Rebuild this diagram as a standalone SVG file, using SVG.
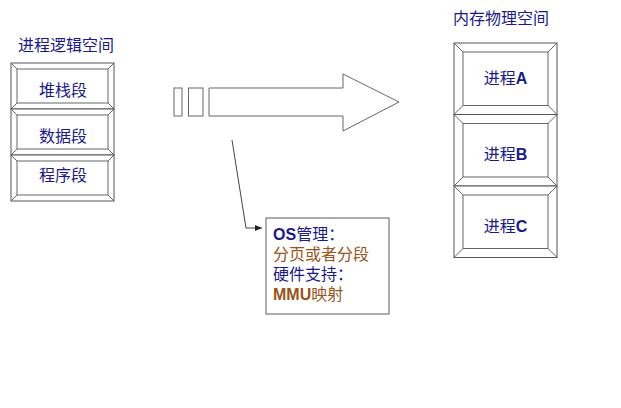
<svg xmlns="http://www.w3.org/2000/svg" width="621" height="408" viewBox="0 0 621 408">
<defs>
<style>
.t{font-family:"Liberation Sans","Noto Sans CJK SC",sans-serif;fill:#1a1a8a;}
.b{font-weight:bold;}
.br{fill:#9a5318;}
.bv{fill:#fff;stroke:#555;stroke-width:1;}
.bl{stroke:#666;stroke-width:1;fill:none;}
.ln{stroke:#444;stroke-width:1;fill:none;}
</style>
<marker id="ah" markerWidth="8" markerHeight="8" refX="7" refY="4" orient="auto" markerUnits="userSpaceOnUse">
<path d="M0,1 L7,4 L0,7 z" fill="#222"/>
</marker>
</defs>
<rect width="621" height="408" fill="#fff"/>

<text class="t" x="66" y="51" font-size="16" text-anchor="middle">进程逻辑空间</text>
<text class="t" x="501" y="24" font-size="16" text-anchor="middle">内存物理空间</text>

<g id="seg-stack">
<rect class="bv" x="11" y="63" width="103" height="46"/>
<rect class="bl" x="17" y="69" width="91" height="34"/>
<path class="bl" d="M11,63 L17,69 M114,63 L108,69 M11,109 L17,103 M114,109 L108,103"/>
<text class="t" x="63" y="96" font-size="16" text-anchor="middle">堆栈段</text>
</g>
<g id="seg-data">
<rect class="bv" x="11" y="109" width="103" height="46"/>
<rect class="bl" x="17" y="115" width="91" height="34"/>
<path class="bl" d="M11,109 L17,115 M114,109 L108,115 M11,155 L17,149 M114,155 L108,149"/>
<text class="t" x="63" y="141.5" font-size="16" text-anchor="middle">数据段</text>
</g>
<g id="seg-code">
<rect class="bv" x="11" y="155" width="103" height="46"/>
<rect class="bl" x="17" y="161" width="91" height="34"/>
<path class="bl" d="M11,155 L17,161 M114,155 L108,161 M11,201 L17,195 M114,201 L108,195"/>
<text class="t" x="63" y="181" font-size="16" text-anchor="middle">程序段</text>
</g>

<g id="proc-a">
<rect class="bv" x="454" y="43" width="103" height="71.5"/>
<rect class="bl" x="463" y="52" width="85" height="53.5"/>
<path class="bl" d="M454,43 L463,52 M557,43 L548,52 M454,114.5 L463,105.5 M557,114.5 L548,105.5"/>
<text class="t" x="505.5" y="84" font-size="16" text-anchor="middle">进程<tspan class="b">A</tspan></text>
</g>
<g id="proc-b">
<rect class="bv" x="454" y="114.5" width="103" height="71.5"/>
<rect class="bl" x="463" y="123.5" width="85" height="53.5"/>
<path class="bl" d="M454,114.5 L463,123.5 M557,114.5 L548,123.5 M454,186 L463,177 M557,186 L548,177"/>
<text class="t" x="505.5" y="160" font-size="16" text-anchor="middle">进程<tspan class="b">B</tspan></text>
</g>
<g id="proc-c">
<rect class="bv" x="454" y="186" width="103" height="71.5"/>
<rect class="bl" x="463" y="195" width="85" height="53.5"/>
<path class="bl" d="M454,186 L463,195 M557,186 L548,195 M454,257.5 L463,248.5 M557,257.5 L548,248.5"/>
<text class="t" x="505.5" y="232" font-size="16" text-anchor="middle">进程<tspan class="b">C</tspan></text>
</g>

<g id="big-arrow">
<rect x="174" y="88" width="8" height="28" fill="#fff" stroke="#666" stroke-width="1"/>
<rect x="188.5" y="88" width="14.5" height="28" fill="#fff" stroke="#666" stroke-width="1"/>
<path d="M209,88 L343,88 L343,74 L399,102 L343,131 L343,116 L209,116 Z" fill="#fff" stroke="#666" stroke-width="1"/>
</g>

<g id="connectors">
<path class="ln" d="M232,140 L246,228 L262,228" marker-end="url(#ah)"/>
</g>

<g id="note">
<rect x="266" y="218" width="123" height="96" fill="#fff" stroke="#777" stroke-width="1.2"/>
<text class="t" x="273" y="240" font-size="16"><tspan class="b">OS</tspan>管理：</text>
<text class="t br" x="273" y="260" font-size="16">分页或者分段</text>
<text class="t" x="273" y="280" font-size="16">硬件支持：</text>
<text class="t br" x="273" y="299.5" font-size="16"><tspan class="b">MMU</tspan>映射</text>
</g>
</svg>
